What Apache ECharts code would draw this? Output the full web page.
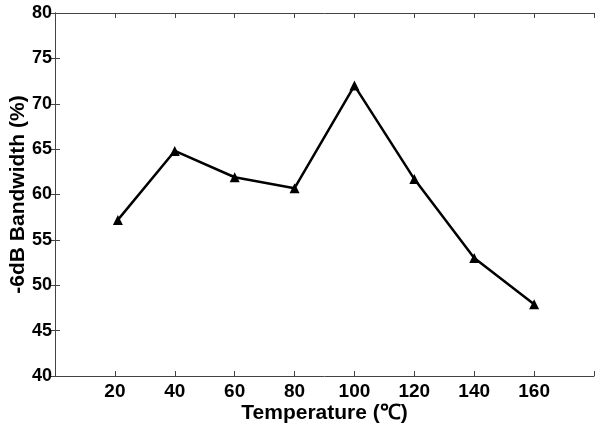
<!DOCTYPE html>
<html>
<head>
<meta charset="utf-8">
<script src="https://cdn.jsdelivr.net/npm/echarts@6/dist/echarts.min.js"></script>
<style>
    html, body { margin: 0; padding: 0; background: #fff; }
    #main { width: 601px; height: 425px; }
</style>
</head>
<body>
<div id="main"></div>
<script type="text/javascript">
    // 温度 (℃) 与 -6dB 带宽 (%)
    var temps = [21, 40, 60, 80, 100, 120, 140, 160];
    var bandwidth = [57.2, 64.8, 61.9, 60.7, 72.0, 61.7, 53.0, 47.9];
    var xHidden = [0, 180];

    var points = temps.map(function (t, i) { return [t, bandwidth[i]]; });
    var axisColor = '#444';
    var font = 'Liberation Sans';

    var myChart = echarts.init(document.getElementById('main'));
    var option = {
        animation: false,
        grid: { left: 55, right: 7, top: 13, bottom: 49, containLabel: false, outerBoundsMode: 'none' },
        xAxis: [{
            type: 'value', min: 0, max: 180, interval: 20,
            name: 'Temperature (℃)', nameLocation: 'middle', nameGap: 27, nameMoveOverlap: false,
            nameTextStyle: { color: '#000', fontFamily: font, fontWeight: 'bold', fontSize: 21 },
            axisLine: { lineStyle: { color: axisColor, width: 1 } },
            axisTick: { inside: true, length: 5, lineStyle: { color: axisColor } },
            axisLabel: { margin: 6, color: '#000', fontFamily: font, fontWeight: 'bold', fontSize: 19,
                formatter: function (v) { return xHidden.indexOf(v) >= 0 ? '' : v; } },
            splitLine: { show: false }
        }, {
            type: 'value', min: 0, max: 180, interval: 20, position: 'top',
            axisLine: { lineStyle: { color: axisColor, width: 1 } },
            axisTick: { inside: true, length: 5, lineStyle: { color: axisColor } },
            axisLabel: { show: false }, splitLine: { show: false }
        }],
        yAxis: [{
            type: 'value', min: 40, max: 80, interval: 5,
            name: '-6dB Bandwidth (%)', nameLocation: 'middle', nameGap: 26, nameMoveOverlap: false,
            nameTextStyle: { color: '#000', fontFamily: font, fontWeight: 'bold', fontSize: 21 },
            axisLine: { show: true, lineStyle: { color: axisColor, width: 1 } },
            axisTick: { show: true, inside: true, length: 5, lineStyle: { color: axisColor } },
            axisLabel: { margin: 3, color: '#000', fontFamily: font, fontWeight: 'bold', fontSize: 18 },
            splitLine: { show: false }
        }, {
            type: 'value', min: 40, max: 80, interval: 5, position: 'right',
            axisLine: { show: true, lineStyle: { color: axisColor, width: 1 } },
            axisTick: { show: true, inside: true, length: 5, lineStyle: { color: axisColor } },
            axisLabel: { show: false }, splitLine: { show: false }
        }],
        series: [{
            type: 'line',
            data: points,
            symbol: 'triangle',
            symbolSize: 10,
            lineStyle: { color: '#000', width: 2.5 },
            itemStyle: { color: '#000' }
        }]
    };
    myChart.setOption(option);
</script>
</body>
</html>
